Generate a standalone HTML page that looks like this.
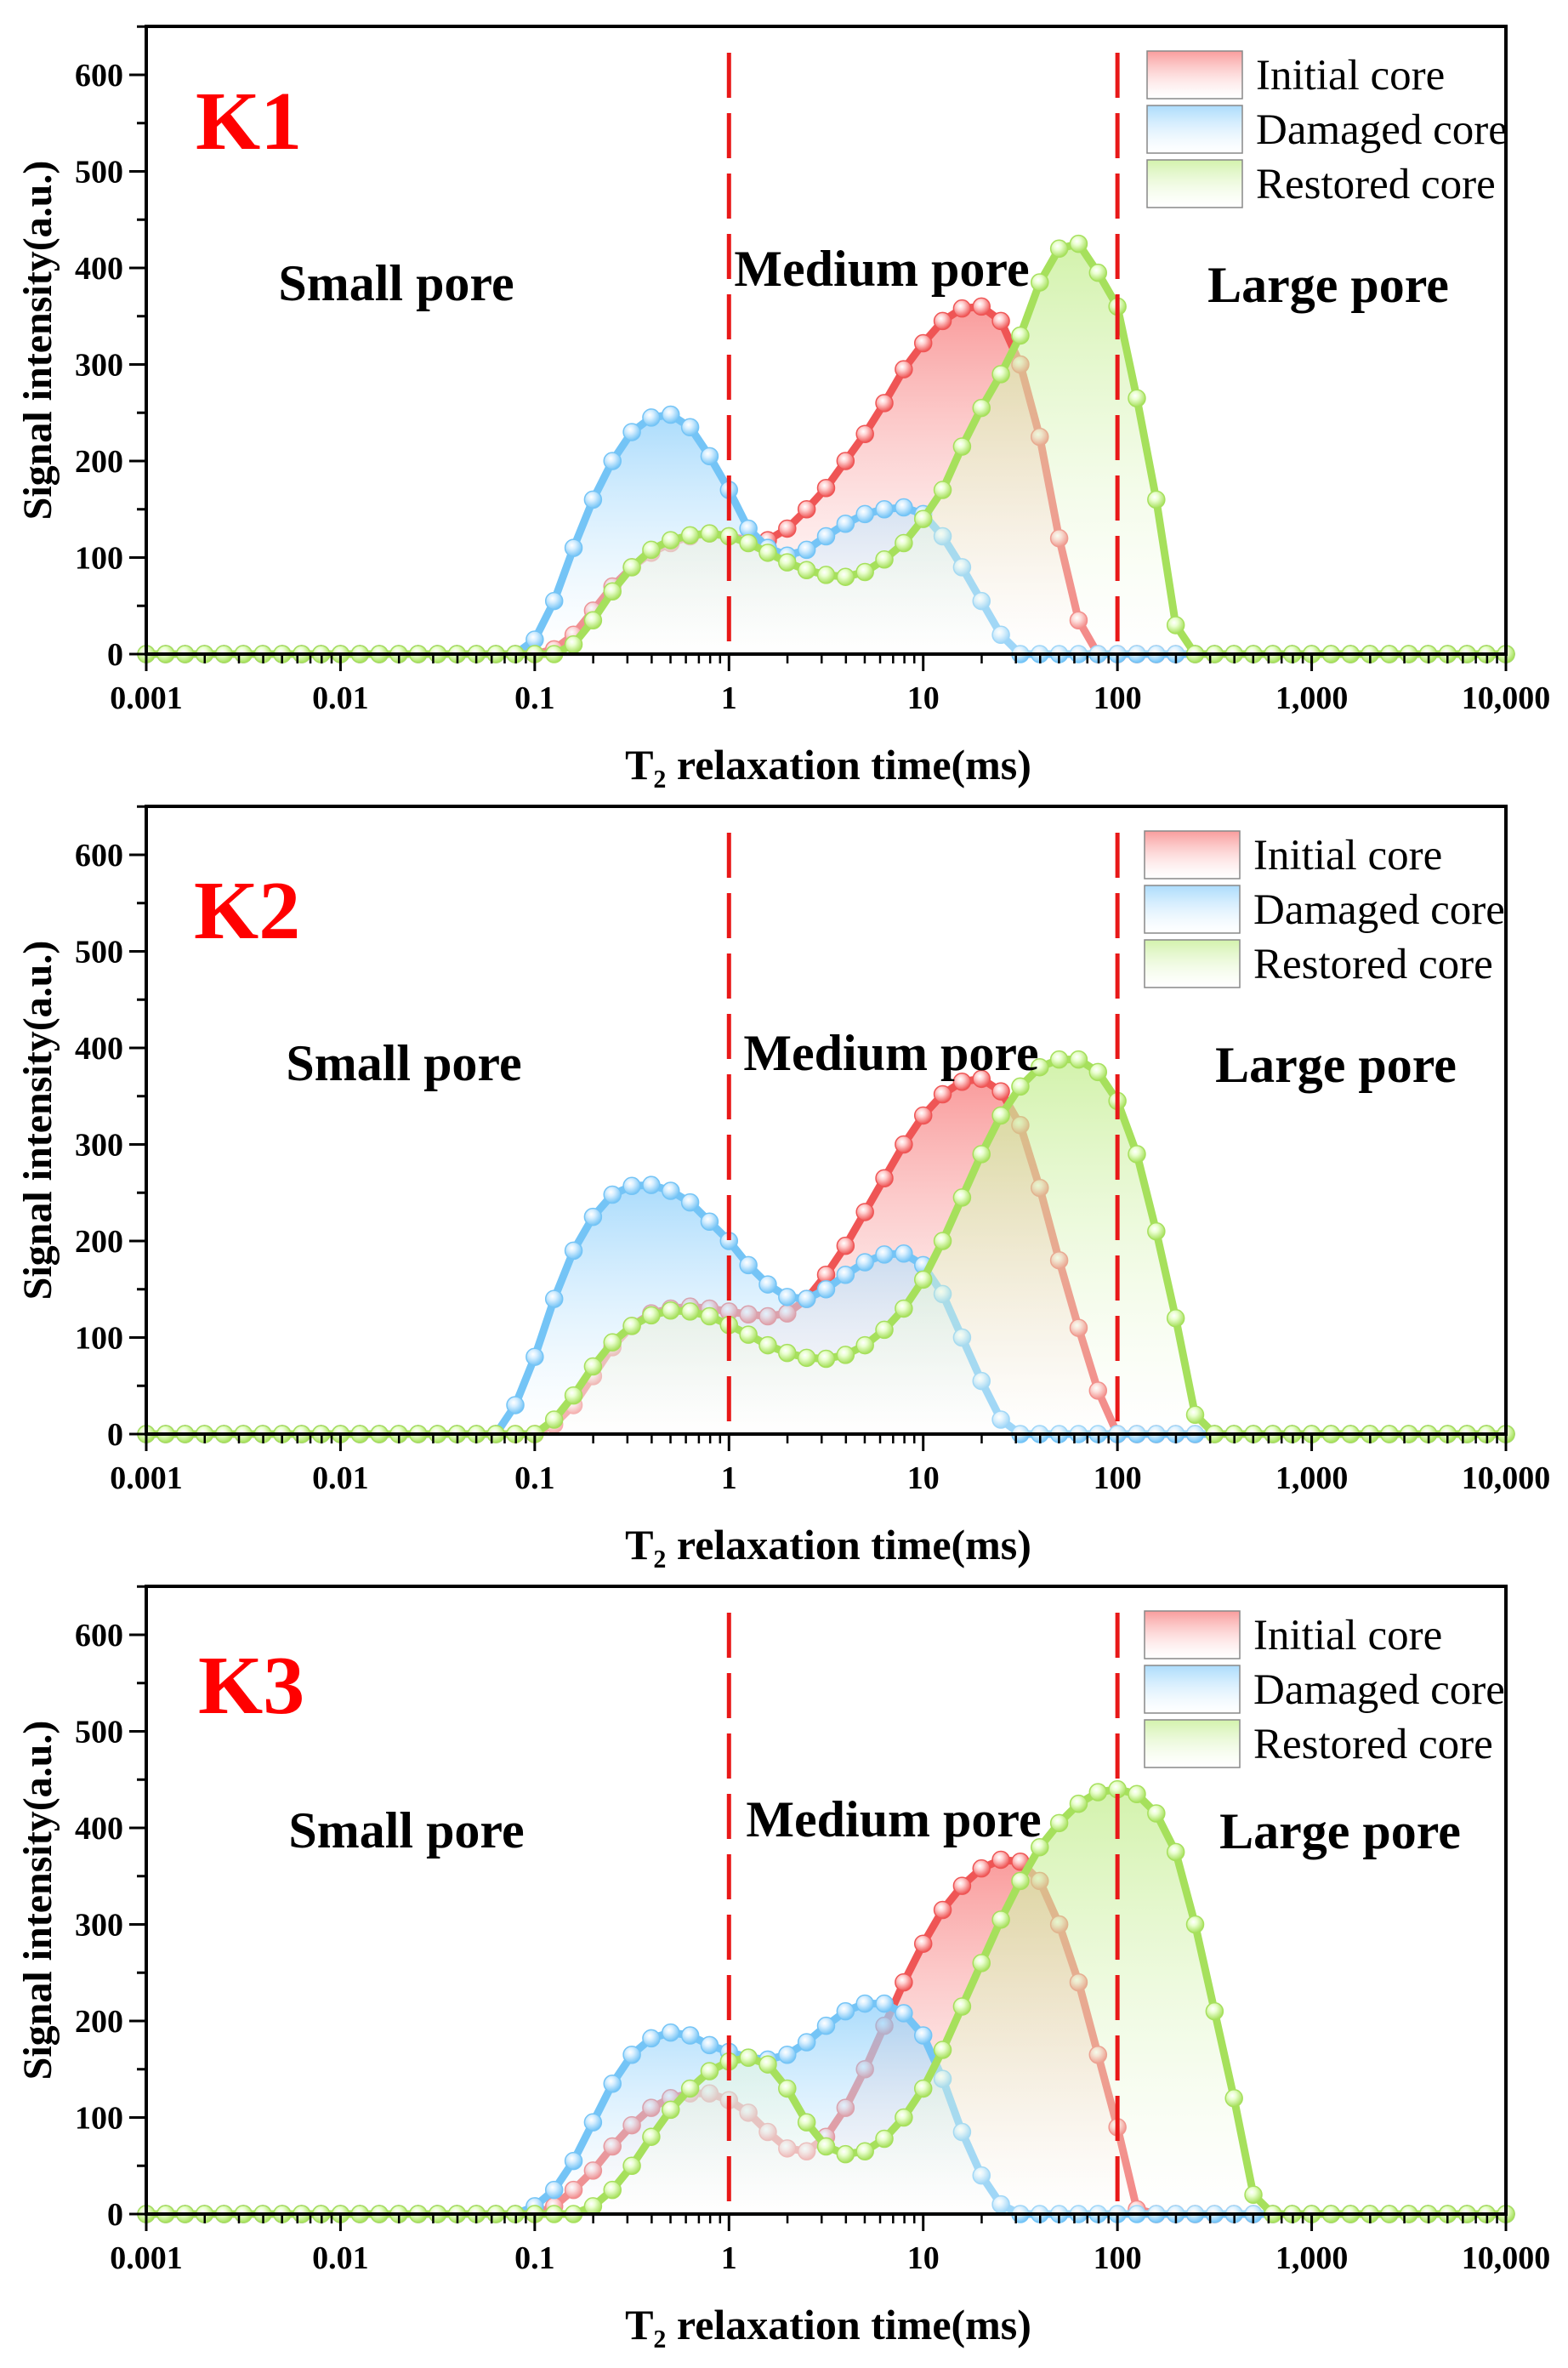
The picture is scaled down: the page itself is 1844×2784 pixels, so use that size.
<!DOCTYPE html>
<html><head><meta charset="utf-8"><style>
html,body{margin:0;padding:0;background:#fff;}
svg{display:block;font-family:"Liberation Serif",serif;}
</style></head><body>
<svg id="chart" width="1844" height="2784" viewBox="0 0 1844 2784" xmlns="http://www.w3.org/2000/svg">
<defs>
<linearGradient id="gRed" x1="0" y1="0" x2="0" y2="1"><stop offset="0" stop-color="#f77b7b" stop-opacity="0.75"/><stop offset="1" stop-color="#ffffff" stop-opacity="0.3"/></linearGradient>
<linearGradient id="gBlue" x1="0" y1="0" x2="0" y2="1"><stop offset="0" stop-color="#8fd0fb" stop-opacity="0.75"/><stop offset="1" stop-color="#ffffff" stop-opacity="0.3"/></linearGradient>
<linearGradient id="gGreen" x1="0" y1="0" x2="0" y2="1"><stop offset="0" stop-color="#c4ee90" stop-opacity="0.75"/><stop offset="1" stop-color="#ffffff" stop-opacity="0.3"/></linearGradient>
<radialGradient id="mRed" cx="0.4" cy="0.35" r="0.65"><stop offset="0" stop-color="#ffffff"/><stop offset="0.35" stop-color="#ffd0d0"/><stop offset="1" stop-color="#ef5555"/></radialGradient>
<radialGradient id="mBlue" cx="0.4" cy="0.35" r="0.65"><stop offset="0" stop-color="#ffffff"/><stop offset="0.35" stop-color="#d8efff"/><stop offset="1" stop-color="#74c4f6"/></radialGradient>
<radialGradient id="mGreen" cx="0.4" cy="0.35" r="0.65"><stop offset="0" stop-color="#ffffff"/><stop offset="0.35" stop-color="#eaffd0"/><stop offset="1" stop-color="#a6e05c"/></radialGradient>
</defs>
</svg>
<script>
// ---- data (log10 T2 grid step 0.1, start exponents + signal values) ----
const xTickLabels = ["0.001","0.01","0.1","1","10","100","1,000","10,000"];
const yTickLabels = ["0","100","200","300","400","500","600"];
const panelNames = ["K1","K2","K3"];
const seriesNames = ["Initial core","Damaged core","Restored core"];

const k1InitialStart = -1.0;
const k1Initial = [0,5,20,45,70,90,105,115,122,125,122,118,118,130,150,172,200,228,260,295,322,345,358,360,345,300,225,120,35,0];
const k1DamagedStart = -1.1;
const k1Damaged = [0,15,55,110,160,200,230,245,248,235,205,170,130,110,102,108,122,135,145,150,152,145,122,90,55,20,0];
const k1RestoredStart = -0.9;
const k1Restored = [0,10,35,65,90,108,118,123,125,122,115,105,95,87,82,80,85,98,115,140,170,215,255,290,330,385,420,425,395,360,265,160,30,0];

const k2InitialStart = -1.0;
const k2Initial = [0,10,30,60,90,112,125,130,132,130,127,124,122,125,140,165,195,230,265,300,330,352,365,368,355,320,255,180,110,45,0];
const k2DamagedStart = -1.2;
const k2Damaged = [0,30,80,140,190,225,248,257,258,252,240,220,200,175,155,142,140,150,165,178,186,187,175,145,100,55,15,0];
const k2RestoredStart = -1.0;
const k2Restored = [0,15,40,70,95,112,123,128,127,122,113,103,92,84,79,78,82,92,108,130,160,200,245,290,330,360,380,388,388,375,345,290,210,120,20,0];

const k3InitialStart = -1.0;
const k3Initial = [0,8,25,45,70,92,110,120,125,125,118,105,85,68,65,80,110,150,195,240,280,315,340,358,367,365,345,300,240,165,90,5,0];
const k3DamagedStart = -1.1;
const k3Damaged = [0,8,25,55,95,135,165,182,188,185,175,168,162,160,165,178,195,210,218,218,208,185,140,85,40,10,0];
const k3RestoredStart = -0.8;
const k3Restored = [0,8,25,50,80,108,130,148,158,162,155,130,95,70,62,65,78,100,130,170,215,260,305,345,380,405,425,437,440,435,415,375,300,210,120,20,0];

const panelData = [
  [[k1InitialStart,k1Initial],[k1DamagedStart,k1Damaged],[k1RestoredStart,k1Restored]],
  [[k2InitialStart,k2Initial],[k2DamagedStart,k2Damaged],[k2RestoredStart,k2Restored]],
  [[k3InitialStart,k3Initial],[k3DamagedStart,k3Damaged],[k3RestoredStart,k3Restored]]
];

// ---- layout ----
const NS = "http://www.w3.org/2000/svg";
const svg = document.getElementById("chart");
const L = 172, R = 1771, PANEL_OFF = 917;
const colors = ["#ef5555","#74c4f6","#a6e05c"];
const fills = ["url(#gRed)","url(#gBlue)","url(#gGreen)"];
const marks = ["url(#mRed)","url(#mBlue)","url(#mGreen)"];
const textPos = [
  {k:[230,142], s:[466,333], m:[1037,316], l:[1562,335], lx:1349},
  {k:[228,153], s:[475,333], m:[1048,321], l:[1571,335], lx:1346},
  {k:[233,147], s:[478,318], m:[1051,305], l:[1576,319], lx:1346}
];
function xs(logv){ return L + (logv + 3) * (R - L) / 7; }
function el(tag, attrs, parent){ const e=document.createElementNS(NS,tag); for(const k in attrs) e.setAttribute(k, attrs[k]); (parent||svg).appendChild(e); return e; }

panelData.forEach((series, p) => {
  const off = p * PANEL_OFF;
  const y0 = 769 + off, top = 31 + off;
  const ys = v => y0 - v * (y0 - (88 + off)) / 600;
  const g = el("g", {});
  
  

  series.forEach((s, si) => {
    const start = s[0], vals = s[1];
    const pts = [];
    for (let i = 0; i <= 70; i++) {
      const lg = -3 + i * 0.1;
      const idx = Math.round((lg - start) * 10);
      const v = (idx >= 0 && idx < vals.length) ? vals[idx] : 0;
      pts.push([xs(lg), ys(v)]);
    }
    const sg = el("g", {}, g);
    
    
    const d = "M" + pts.map(q => q[0].toFixed(1) + "," + q[1].toFixed(1)).join("L");
    const area = el("path", {d: d + "L" + xs(4) + "," + y0 + "L" + xs(-3) + "," + y0 + "Z", fill: fills[si], stroke: "none"}, sg);
    
    
    const line = el("path", {d: d, fill: "none", stroke: colors[si], "stroke-width": 9, "stroke-linejoin": "round"}, sg);
    
    
    pts.forEach(q => {
      const c = el("circle", {cx: q[0], cy: q[1], r: 10, fill: marks[si], stroke: colors[si], "stroke-width": 1.5}, sg);
      
      
    });
  });

  [0, 2].forEach(lg => {
    const dl = el("line", {x1: xs(lg), x2: xs(lg), y1: 62 + off, y2: y0, stroke: "#e81818", "stroke-width": 5, "stroke-dasharray": "53 18"}, g);
    
    
  });

  const fr = el("rect", {x: L, y: top, width: R - L, height: y0 - top, fill: "none", stroke: "#000", "stroke-width": 4}, g);
  
  

  for (let dcd = -3; dcd <= 4; dcd++) {
    const x = xs(dcd);
    const t = el("line", {x1: x, x2: x, y1: y0, y2: y0 + 20, stroke: "#000", "stroke-width": 3}, g);
    
    
    const tl = el("text", {x: x, y: y0 + 64, "text-anchor": "middle", "font-size": 38, "font-weight": "bold"}, g);
    tl.textContent = xTickLabels[dcd + 3];
    
    
    if (dcd < 4) for (let m = 2; m <= 9; m++) {
      const xm = xs(dcd + Math.log10(m));
      const mt = el("line", {x1: xm, x2: xm, y1: y0, y2: y0 + 11, stroke: "#000", "stroke-width": 2.5}, g);
      
      
    }
  }
  for (let v = 0; v <= 650; v += 50) {
    const major = v % 100 === 0;
    const t = el("line", {x1: L - (major ? 20 : 11), x2: L, y1: ys(v), y2: ys(v), stroke: "#000", "stroke-width": 3}, g);
    
    
    if (major && v <= 600) {
      const tl = el("text", {x: 145, y: ys(v) + 13, "text-anchor": "end", "font-size": 38, "font-weight": "bold"}, g);
      tl.textContent = yTickLabels[v / 100];
      
      
    }
  }
  const yt = el("text", {x: 0, y: 0, transform: "translate(60," + (400 + off) + ") rotate(-90)", "text-anchor": "middle", "font-size": 48, "font-weight": "bold"}, g);
  yt.textContent = "Signal intensity(a.u.)";
  
  
  const xt = el("text", {x: 974, y: 916 + off, "text-anchor": "middle", "font-size": 50, "font-weight": "bold"}, g);
  xt.textContent = "T₂ relaxation time(ms)";
  
  

  const tp = textPos[p];
  const kl = el("text", {x: tp.k[0], y: tp.k[1] + 33 + off, "font-size": 98, "font-weight": "bold", fill: "#ff0000"}, g);
  kl.textContent = panelNames[p];
  
  
  [["Small pore", tp.s, "small-pore-label"], ["Medium pore", tp.m, "medium-pore-label"], ["Large pore", tp.l, "large-pore-label"]].forEach(a => {
    const t = el("text", {x: a[1][0], y: a[1][1] + 20 + off, "text-anchor": "middle", "font-size": 60, "font-weight": "bold"}, g);
    t.textContent = a[0];
    
    
  });

  seriesNames.forEach((n, i) => {
    const ly = 60 + i * 64 + off;
    const lg = el("g", {}, g);
    
    
    const grad = el("rect", {x: tp.lx, y: ly, width: 112, height: 56, fill: fills[i], stroke: "#888", "stroke-width": 1.5}, lg);
    
    
    const lt = el("text", {x: tp.lx + 128, y: ly + 45, "font-size": 51}, lg);
    lt.textContent = n;
    
    
  });
});
</script>
</body></html>
